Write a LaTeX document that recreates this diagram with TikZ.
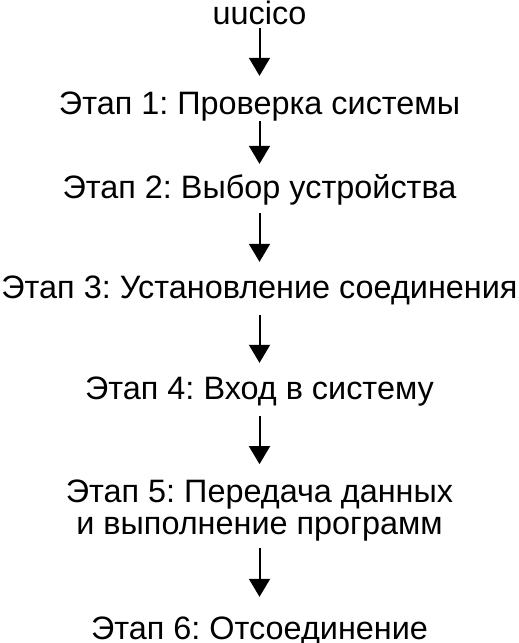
\documentclass[tikz,border=0pt]{standalone}
\usepackage{fontspec}
\setmainfont{Liberation Sans}
\frenchspacing
\usetikzlibrary{arrows.meta}
\begin{document}
\begin{tikzpicture}[x=1pt,y=1pt,
  lbl/.style={inner sep=0pt, font=\fontsize{32.4}{32}\selectfont\frenchspacing, text=black},
  one/.style={lbl, anchor=base, text height=23pt, text depth=7pt},
  arr/.style={line width=2pt, -{Triangle[width=21pt,length=18pt]}}]
\useasboundingbox (0,0) rectangle (519,-643);
\node[one, text height=21pt] (n0) at (259.5,-24) {uucico};
\node[one] (n1) at (259.5,-114) {Этап 1: Проверка системы};
\node[one] (n2) at (259.5,-198) {Этап 2: Выбор устройства};
\node[one] (n3) at (259.5,-298) {Этап 3: Установление соединения};
\node[one] (n4) at (259.5,-399) {Этап 4: Вход в систему};
\node[lbl, align=center] (n5) at (259.5,-511) {Этап 5: Передача данных\\и выполнение программ};
\node[one, text depth=1pt] (n6) at (259.5,-639) {Этап 6: Отсоединение};
\draw[arr, shorten <=-3pt, shorten >=15pt] (n0) -- (n1);
\draw[arr, shorten >=11pt] (n1) -- (n2);
\draw[arr, shorten <=8pt, shorten >=13pt] (n2) -- (n3);
\draw[arr, shorten <=10pt, shorten >=13pt] (n3) -- (n4);
\draw[arr, shorten <=10pt, shorten >=16pt] (n4) -- (n5);
\draw[arr, shorten <=6pt, shorten >=19pt] (n5) -- (n6);
\end{tikzpicture}
\end{document}
